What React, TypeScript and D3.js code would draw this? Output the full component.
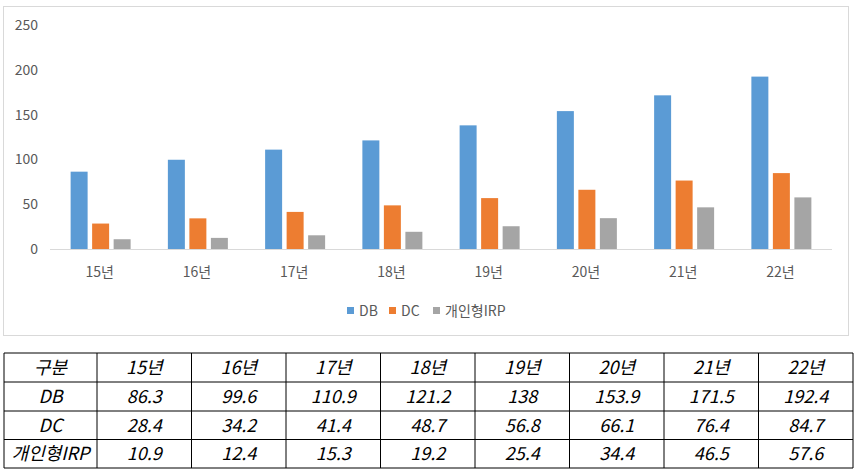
import React from "react";
import * as d3 from "d3";

const categories = ["15년", "16년", "17년", "18년", "19년", "20년", "21년", "22년"];
const seriesNames = ["DB", "DC", "개인형IRP"];
const dbValues = [86.3, 99.6, 110.9, 121.2, 138, 153.9, 171.5, 192.4];
const dcValues = [28.4, 34.2, 41.4, 48.7, 56.8, 66.1, 76.4, 84.7];
const irpValues = [10.9, 12.4, 15.3, 19.2, 25.4, 34.4, 46.5, 57.6];
const yTicks = [0, 50, 100, 150, 200, 250];
const tableValueLabels = [
  ["86.3", "99.6", "110.9", "121.2", "138", "153.9", "171.5", "192.4"],
  ["28.4", "34.2", "41.4", "48.7", "56.8", "66.1", "76.4", "84.7"],
  ["10.9", "12.4", "15.3", "19.2", "25.4", "34.4", "46.5", "57.6"],
];
const tableHeader = "구분";

const colors = ["#5B9BD5", "#ED7D31", "#A5A5A5"];
const FONT = "'Noto Sans CJK KR', 'Noto Sans', sans-serif";

export default function App() {
  const W = 857;
  const H = 475;
  const series = [dbValues, dcValues, irpValues];

  const x = d3.scaleBand<string>().domain(categories).range([52, 830]).paddingInner(0).paddingOuter(0);
  const y = d3.scaleLinear().domain([0, 250]).range([249, 25]);
  const inner = d3.scaleBand<string>().domain(seriesNames).range([0, 60]).paddingInner(0.21).paddingOuter(0);

  // table geometry
  const colX = d3.range(10).map((i) => (i === 0 ? 4 : 97 + (i - 1) * 94.5));
  const rowY = [353, 382, 411, 439.5, 468];
  const tableRows = [
    [tableHeader, ...categories],
    ...seriesNames.map((n, i) => [n, ...tableValueLabels[i]]),
  ];

  const legendItems = [
    { name: seriesNames[0], sx: 347, tx: 359 },
    { name: seriesNames[1], sx: 389, tx: 401 },
    { name: seriesNames[2], sx: 433, tx: 445 },
  ];

  return (
    <svg
      width={W}
      height={H}
      style={{ position: "absolute", left: 0, top: 0, background: "#fff" }}
      fontFamily={FONT}
    >
      <rect x={3.5} y={6.5} width={845} height={329} fill="#fff" stroke="#D9D9D9" strokeWidth={1} />

      {yTicks.map((t) => (
        <text key={t} x={38} y={y(t)} dy="0.35em" textAnchor="end" fontSize={14} fill="#595959">
          {t}
        </text>
      ))}

      {categories.map((c, ci) => {
        const cx = (x(c) as number) + x.bandwidth() / 2;
        return (
          <g key={c}>
            {series.map((vals, si) => (
              <rect
                key={si}
                x={cx - 30 + (inner(seriesNames[si]) as number)}
                y={y(vals[ci])}
                width={inner.bandwidth()}
                height={y(0) - y(vals[ci])}
                fill={colors[si]}
              />
            ))}
            <text x={cx - 1} y={272} dy="0.35em" textAnchor="middle" fontSize={14} fill="#595959">
              {c}
            </text>
          </g>
        );
      })}

      <line x1={50} x2={832} y1={y(0) + 0.5} y2={y(0) + 0.5} stroke="#D9D9D9" strokeWidth={1} />

      {legendItems.map((l, i) => (
        <g key={l.name}>
          <rect x={l.sx} y={307} width={7} height={7} fill={colors[i]} />
          <text x={l.tx} y={311} dy="0.35em" fontSize={14} fill="#595959">
            {l.name}
          </text>
        </g>
      ))}

      {/* table */}
      {tableRows.map((row, ri) =>
        row.map((cell, ci) => (
          <text
            key={`${ri}-${ci}`}
            x={(colX[ci] + colX[ci + 1]) / 2}
            y={(rowY[ri] + rowY[ri + 1]) / 2}
            dy="0.35em"
            textAnchor="middle"
            fontSize={18}
            fontStyle="italic"
            fill="#000"
          >
            {cell}
          </text>
        ))
      )}
      {rowY.map((ry, i) => (
        <line key={`h${i}`} x1={colX[0]} x2={colX[9]} y1={ry} y2={ry} stroke="#000" strokeWidth={1} />
      ))}
      {colX.map((cx, i) => (
        <line key={`v${i}`} x1={cx} x2={cx} y1={rowY[0]} y2={rowY[4]} stroke="#000" strokeWidth={1} />
      ))}
    </svg>
  );
}
